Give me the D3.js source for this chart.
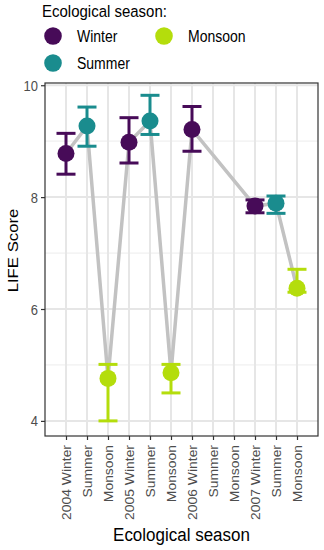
<!DOCTYPE html>
<html>
<head>
<meta charset="utf-8">
<script src="https://cdn.jsdelivr.net/npm/d3@7"></script>
<style>
  body { margin: 0; background: #fff; }
  svg { font-family: "Liberation Sans", Arial, sans-serif; }
</style>
</head>
<body>
<svg id="chart" width="324" height="550"></svg>
<script>
// categories along the x axis
const categories = ['2004 Winter', '2004 Summer', '2004 Monsoon', '2005 Winter', '2005 Summer', '2005 Monsoon',
  '2006 Winter', '2006 Summer', '2006 Monsoon', '2007 Winter', '2007 Summer', '2007 Monsoon'];
const tickLabels = ['2004 Winter', 'Summer', 'Monsoon', '2005 Winter', 'Summer', 'Monsoon',
  '2006 Winter', 'Summer', 'Monsoon', '2007 Winter', 'Summer', 'Monsoon'];
const seasons = ['Winter', 'Summer', 'Monsoon', 'Winter', 'Summer', 'Monsoon',
  'Winter', 'Summer', 'Monsoon', 'Winter', 'Summer', 'Monsoon'];
// mean score and error bar bounds (null = no data)
const scores = [8.78, 9.27, 4.76, 8.98, 9.36, 4.86, 9.21, null, null, 7.84, 7.89, 6.37];
const lower  = [8.41, 8.91, 4.00, 8.61, 9.12, 4.50, 8.82, null, null, 7.72, 7.71, 6.30];
const upper  = [9.14, 9.61, 5.01, 9.42, 9.82, 5.01, 9.62, null, null, 7.95, 8.02, 6.71];
const yTicks = [4, 6, 8, 10];
const yMinor = [5, 7, 9];

const COLORS = { Winter: '#470b58', Summer: '#1a8c8e', Monsoon: '#b4dd0c' };
const STRETCH = 1.12; // reference text looks taller than wide

const svg = d3.select('#chart');
const m = { top: 83, right: 6, bottom: 114, left: 45 };
const W = 324, H = 550;

const x = d3.scalePoint().domain(categories).range([m.left, W - m.right]).padding(1);
const y = d3.scaleLinear().domain([3.73, 10.04]).range([H - m.bottom, m.top]);

// horizontal text stretched vertically around its baseline
const label = (g, tx, ty, txt, size, anchor) => g.append('text')
  .attr('transform', `translate(${tx},${ty}) scale(1,${STRETCH})`)
  .attr('text-anchor', anchor || 'start').attr('font-size', size).attr('fill', '#000')
  .text(txt);

// ─── GRID ───
const grid = svg.append('g');
yMinor.forEach(v => grid.append('line')
  .attr('x1', m.left).attr('x2', W - m.right).attr('y1', y(v)).attr('y2', y(v))
  .attr('stroke', '#f0f0f0').attr('stroke-width', 1.2));
yTicks.forEach(v => grid.append('line')
  .attr('x1', m.left).attr('x2', W - m.right).attr('y1', y(v)).attr('y2', y(v))
  .attr('stroke', '#e6e6e6').attr('stroke-width', 2));
categories.forEach(c => grid.append('line')
  .attr('x1', x(c)).attr('x2', x(c)).attr('y1', m.top).attr('y2', H - m.bottom)
  .attr('stroke', '#e6e6e6').attr('stroke-width', 2));

// ─── LINE ───
const pts = categories.map((c, i) => ({ c, v: scores[i], lo: lower[i], hi: upper[i], s: seasons[i] }))
  .filter(d => d.v !== null);

svg.append('path')
  .attr('d', d3.line().x(d => x(d.c)).y(d => y(d.v))(pts))
  .attr('fill', 'none').attr('stroke', '#c2c2c2').attr('stroke-width', 3.5);

// ─── ERROR BARS + POINTS ───
const eb = svg.append('g');
pts.forEach(d => {
  const cx = x(d.c), col = COLORS[d.s], hw = 9.5;
  eb.append('line').attr('x1', cx).attr('x2', cx).attr('y1', y(d.lo)).attr('y2', y(d.hi))
    .attr('stroke', col).attr('stroke-width', 3);
  [d.lo, d.hi].forEach(v => eb.append('line')
    .attr('x1', cx - hw).attr('x2', cx + hw).attr('y1', y(v)).attr('y2', y(v))
    .attr('stroke', col).attr('stroke-width', 3));
  eb.append('circle').attr('cx', cx).attr('cy', y(d.v)).attr('r', 8.5).attr('fill', col);
});

// ─── PANEL BORDER ───
svg.append('rect')
  .attr('x', m.left).attr('y', m.top)
  .attr('width', W - m.right - m.left).attr('height', H - m.bottom - m.top)
  .attr('fill', 'none').attr('stroke', '#333').attr('stroke-width', 1.2);

// ─── AXES ───
const yAxis = svg.append('g').attr('transform', `translate(${m.left},0)`)
  .call(d3.axisLeft(y).tickValues(yTicks).tickFormat(d3.format('d')).tickSize(4).tickPadding(3));
yAxis.select('.domain').remove();
yAxis.selectAll('line').attr('stroke', '#333').attr('stroke-width', 1.2);
yAxis.selectAll('text').attr('font-size', 13).attr('fill', '#4d4d4d')
  .attr('font-family', '"Liberation Sans", Arial, sans-serif')
  .attr('x', 0).attr('dy', null)
  .attr('transform', `translate(-7,5) scale(1,${STRETCH})`);

const xAxis = svg.append('g').attr('transform', `translate(0,${H - m.bottom})`)
  .call(d3.axisBottom(x).tickSize(4).tickFormat((c, i) => tickLabels[i]));
xAxis.select('.domain').remove();
xAxis.selectAll('line').attr('stroke', '#333').attr('stroke-width', 1.2);
xAxis.selectAll('text')
  .attr('font-size', 13).attr('fill', '#4d4d4d')
  .attr('font-family', '"Liberation Sans", Arial, sans-serif')
  .attr('transform', 'translate(0,9) rotate(-90) scale(1.07,1)')
  .attr('text-anchor', 'end')
  .attr('x', 0).attr('y', 0).attr('dy', '0.35em');

// ─── TITLES ───
label(svg, (m.left + W - m.right) / 2, 541, 'Ecological season', 17, 'middle');

svg.append('text')
  .attr('transform', `translate(18,${(m.top + H - m.bottom) / 2 - 9}) rotate(-90) scale(1.08,1)`)
  .attr('text-anchor', 'middle').attr('font-size', 15.5).attr('fill', '#000')
  .text('LIFE Score');

// ─── LEGEND ───
const lg = svg.append('g');
label(lg, 42, 17, 'Ecological season:', 15);
const legendItems = [
  { s: 'Winter', cx: 53, cy: 36 },
  { s: 'Monsoon', cx: 164, cy: 36 },
  { s: 'Summer', cx: 53, cy: 63 }
];
legendItems.forEach(d => {
  lg.append('circle').attr('cx', d.cx).attr('cy', d.cy).attr('r', 8.8).attr('fill', COLORS[d.s]);
  label(lg, d.cx + 24, d.cy + 5.5, d.s, 14);
});
</script>
</body>
</html>
